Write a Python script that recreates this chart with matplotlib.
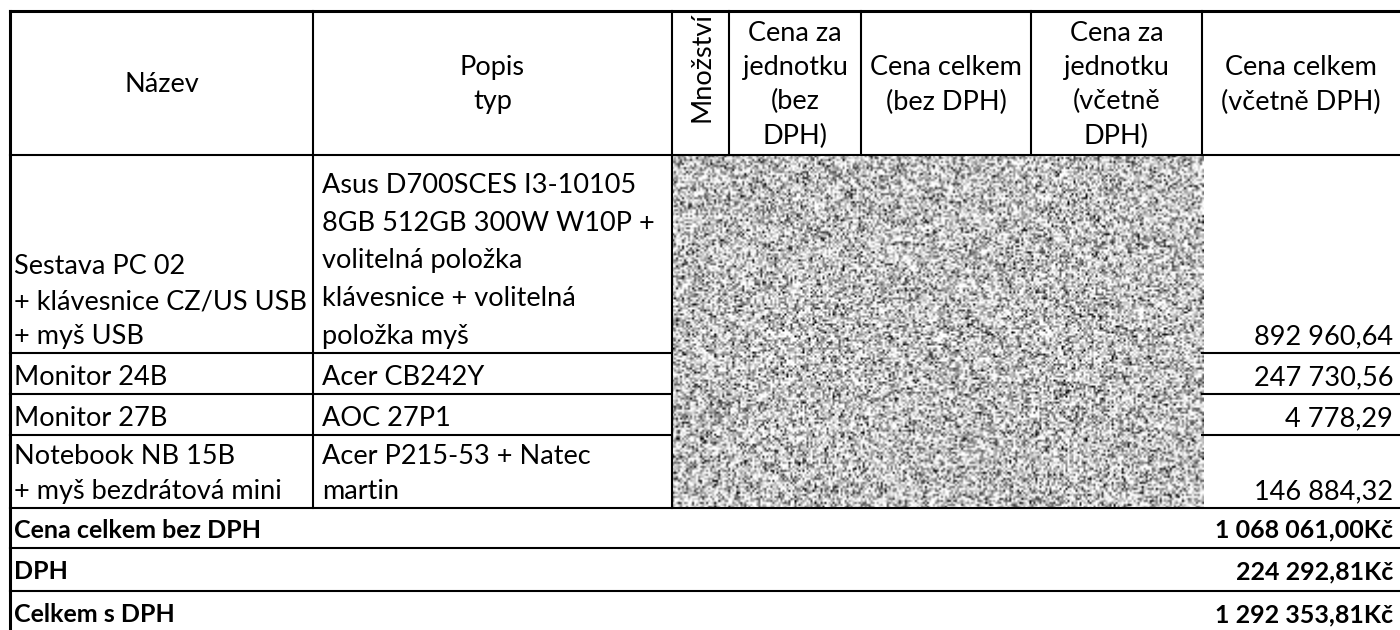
import numpy as np
import matplotlib.pyplot as plt
from matplotlib.patches import Rectangle

# table content
headers = ["Název", "Popis\ntyp", "Množství", "Cena za\njednotku\n(bez\nDPH)",
           "Cena celkem\n(bez DPH)", "Cena za\njednotku\n(včetně\nDPH)",
           "Cena celkem\n(včetně DPH)"]
names = ["Sestava PC 02\n+ klávesnice CZ/US USB\n+ myš USB", "Monitor 24B", "Monitor 27B",
         "Notebook NB 15B\n+ myš bezdrátová mini"]
descriptions = ["Asus D700SCES I3-10105\n8GB 512GB 300W W10P +\nvolitelná položka\n"
                "klávesnice + volitelná\npoložka myš",
                "Acer CB242Y", "AOC 27P1", "Acer P215-53 + Natec\nmartin"]
totals_vat = ["892 960,64", "247 730,56", "4 778,29", "146 884,32"]
summary_labels = ["Cena celkem bez DPH", "DPH", "Celkem s DPH"]
summary_values = ["1 068 061,00Kč", "224 292,81Kč", "1 292 353,81Kč"]

# grid in pixels
col_x = [10, 313, 672, 729, 861, 1031, 1202, 1400]
row_y = [11, 155, 353, 394, 435, 508, 548, 591, 634]

plt.rcParams['font.family'] = ['Lato', 'DejaVu Sans']
fs = 19.5
fs_b = 18

fig = plt.figure(figsize=(14, 6.3), dpi=100)
ax = fig.add_axes([0, 0, 1, 1])
ax.set_xlim(0, 1400)
ax.set_ylim(630, 0)
ax.axis('off')

# redacted price block (noise texture)
rng = np.random.default_rng(7)
h = (row_y[5] - row_y[1]) // 2
w = (col_x[6] - col_x[2]) // 2
tex = np.clip(rng.normal(0.78, 0.32, (h, w)), 0, 1)
ax.imshow(tex, cmap='gray', vmin=0, vmax=1, interpolation='bilinear',
          extent=(col_x[2], col_x[6] + 2, row_y[5], row_y[1]), aspect='auto', zorder=1)

lw_in = 1.5
lw_out = 2.2
k = 'black'
# outer borders
ax.plot([col_x[0], 1400], [row_y[0], row_y[0]], color=k, lw=lw_out, zorder=3)
ax.plot([col_x[0], col_x[0]], [row_y[0], 630], color=k, lw=lw_out, zorder=3)
# header vertical lines
for x in col_x[1:-1]:
    ax.plot([x, x], [row_y[0], row_y[1]], color=k, lw=lw_in, zorder=3)
# vertical lines in the item rows
for x in [col_x[1], col_x[2]]:
    ax.plot([x, x], [row_y[1], row_y[5]], color=k, lw=lw_in, zorder=3)
# horizontal lines
for y in [row_y[1], row_y[5], row_y[6], row_y[7]]:
    ax.plot([col_x[0], 1400], [y, y], color=k, lw=lw_in, zorder=3)
for y in row_y[2:5]:
    ax.plot([col_x[0], col_x[2]], [y, y], color=k, lw=lw_in, zorder=3)
    ax.plot([col_x[6], 1400], [y, y], color=k, lw=lw_in, zorder=3)

# header texts
hy = (row_y[0] + row_y[1]) / 2 + 2
for i, t in enumerate(headers):
    cx = (col_x[i] + col_x[i + 1]) / 2
    if t == "Množství":
        txt = ax.text(cx + 1, 122, t, rotation=90, rotation_mode='anchor', ha='left',
                      va='center', fontsize=fs)
        clip = Rectangle((col_x[i], row_y[0]), col_x[i + 1] - col_x[i], row_y[1] - row_y[0],
                         transform=ax.transData)
        txt.set_clip_path(clip)
        continue
    ax.text(cx, hy, t, ha='center', va='center', fontsize=fs, linespacing=1.45,
            multialignment='center')

# item rows
for i in range(len(names)):
    yb = row_y[i + 2] - 4
    ax.text(col_x[0] + 4, yb, names[i], ha='left', va='bottom', fontsize=fs, linespacing=1.49)
    ax.text(col_x[1] + 9, yb, descriptions[i], ha='left', va='bottom', fontsize=fs,
            linespacing=1.64 if i == 0 else 1.49)
    ax.text(1393, yb, totals_vat[i], ha='right', va='bottom', fontsize=fs)

# summary rows
for i in range(len(summary_labels)):
    yc = (row_y[i + 5] + row_y[i + 6]) / 2 + 2
    ax.text(col_x[0] + 4, yc, summary_labels[i], ha='left', va='center', fontsize=fs_b,
            fontweight='bold')
    ax.text(1393, yc, summary_values[i], ha='right', va='center', fontsize=fs_b,
            fontweight='bold')

plt.savefig("out.png", dpi=100, facecolor='white')
